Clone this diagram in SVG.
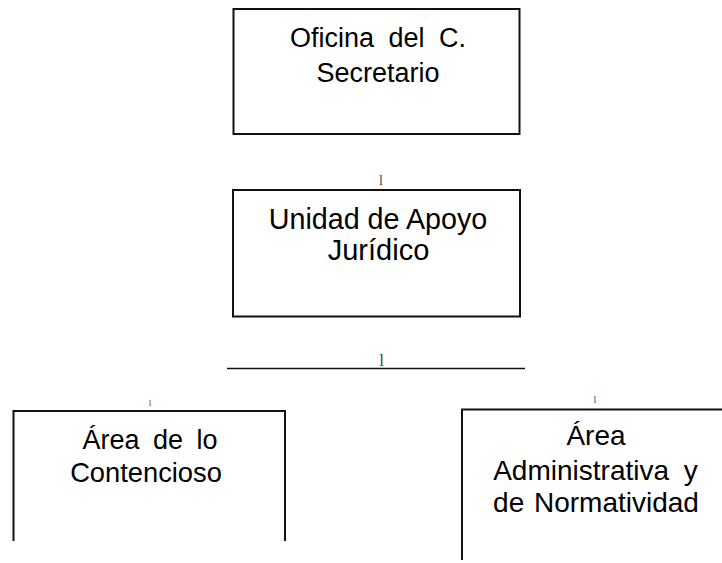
<svg xmlns="http://www.w3.org/2000/svg" width="722" height="563" viewBox="0 0 722 563">
<style>
.box{fill:none;stroke:#111;stroke-width:2}
.t{font-family:"Liberation Sans",Arial,sans-serif;fill:#000;text-anchor:middle}
.m{font-family:"Liberation Serif","Times New Roman",serif;fill:#444;text-anchor:middle}
.c{stroke:#111;stroke-width:1.5;fill:none}
</style>
<rect width="722" height="563" fill="#fff"/>
<g id="n1">
<rect class="box" x="233.5" y="9" width="286" height="125"/>
<text class="t" x="378" y="47" font-size="27" word-spacing="7">Oficina del C.</text>
<text class="t" x="378" y="82" font-size="27">Secretario</text>
</g>
<g id="n2">
<rect class="box" x="233" y="190" width="287" height="126.5"/>
<text class="t" x="378" y="228.5" font-size="28.7">Unidad de Apoyo</text>
<text class="t" x="378.5" y="260" font-size="29">Jurídico</text>
</g>
<g id="n3">
<path class="box" d="M13.5 541 V411 H285 V541"/>
<text class="t" x="150" y="449" font-size="27" word-spacing="6">Área de lo</text>
<text class="t" x="146" y="482" font-size="27.3">Contencioso</text>
</g>
<g id="n4">
<path class="box" d="M462 560 V409.5 H722"/>
<text class="t" x="596" y="445" font-size="28">Área</text>
<text class="t" x="595.5" y="480" font-size="28" word-spacing="7">Administrativa y</text>
<text class="t" x="596" y="512" font-size="28" word-spacing="2">de Normatividad</text>
</g>
<g id="connectors">
<line class="c" x1="227" y1="368.5" x2="525" y2="368.5"/>
<text class="m" x="381" y="185" font-size="14">l</text>
<text class="m" x="381.5" y="366" font-size="17">l</text>
<text class="m" x="150" y="406" font-size="9">l</text>
<text class="m" x="595" y="403" font-size="10">l</text>
</g>
</svg>
